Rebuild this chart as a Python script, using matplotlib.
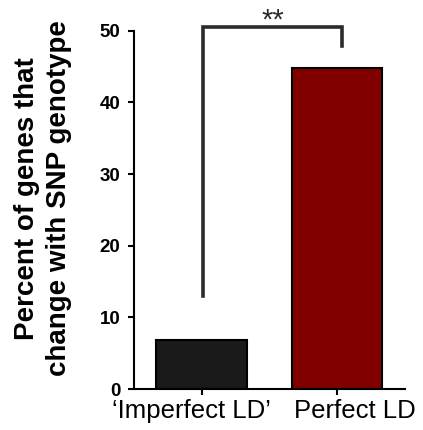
import matplotlib
matplotlib.use("Agg")
import matplotlib.pyplot as plt
from matplotlib.transforms import ScaledTranslation, blended_transform_factory

plt.rcParams['font.family'] = ['Liberation Sans', 'DejaVu Sans']

# bar data
groups = ["\u2018Imperfect LD\u2019", "Perfect LD"]
percent_changed = [6.8, 44.8]
bar_colors = ["#1a1a1a", "#800000"]
y_ticks = [0, 10, 20, 30, 40, 50]

# significance bracket: left foot, top, right foot (percent units)
bracket_ends = [13.0, 50.6, 47.9]
sig_label = "**"

fig = plt.figure(figsize=(4.23, 4.30), dpi=100)
ax = fig.add_axes([0.317, 0.0953, 0.640, 0.833])

x = list(range(len(groups)))
ax.bar(x, percent_changed, width=0.67, color=bar_colors,
       edgecolor="black", linewidth=1.5, zorder=2)

ax.set_xlim(-0.5, 1.5)
ax.set_ylim(0, 50)
ax.set_yticks(y_ticks)
ax.set_yticklabels([str(t) for t in y_ticks], fontsize=13.5, fontweight="bold")
ax.set_xticks(x)
ax.set_xticklabels([])

# group names, nudged apart so they don't collide
base = blended_transform_factory(ax.transData, ax.transAxes)
for xi, name, dx in zip(x, groups, [-0.10, 0.18]):
    tr = base + ScaledTranslation(dx, -0.10, fig.dpi_scale_trans)
    ax.text(xi, 0, name, transform=tr, ha="center", va="top", fontsize=18.5)

for side in ("top", "right"):
    ax.spines[side].set_visible(False)
for side in ("left", "bottom"):
    ax.spines[side].set_linewidth(1.5)
ax.tick_params(axis="both", direction="out", length=4.5, width=1.5)
ax.tick_params(axis="y", pad=5.5)

ax.set_ylabel("Percent of genes that\nchange with SNP genotype",
              fontsize=20, fontweight="bold", linespacing=1.3)
ax.yaxis.set_label_coords(-0.229, 0.532)

# bracket between the two groups
x0, x1 = x[0] + 0.007, x[1] + 0.037
ax.plot([x0, x0, x1, x1],
        [bracket_ends[0], bracket_ends[1], bracket_ends[1], bracket_ends[2]],
        color="#2b2b2b", linewidth=2.6, clip_on=False, solid_joinstyle="miter")
ax.text((x0 + x1) / 2, 50.3, sig_label, ha="center", va="baseline",
        fontsize=21, color="#2b2b2b")

fig.savefig("out.png", dpi=100)
